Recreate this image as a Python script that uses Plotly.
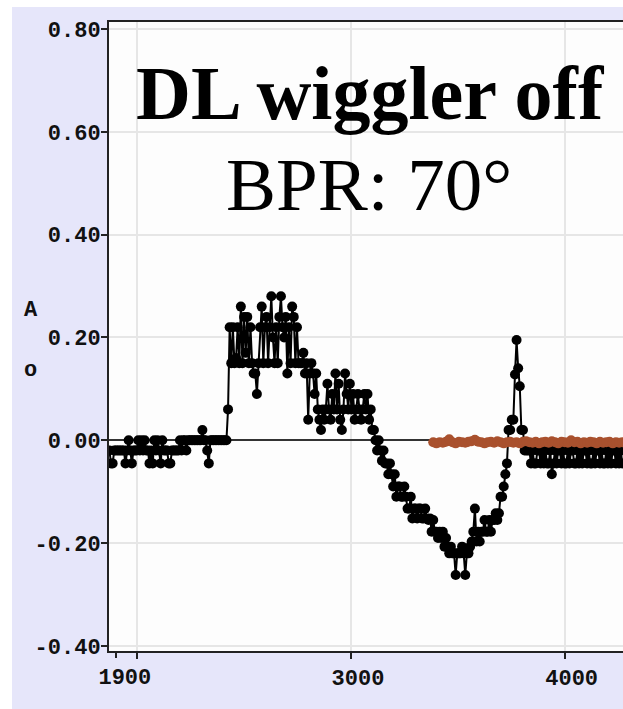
import plotly.graph_objects as go

# ---------------- data (black trace, by segment) ----------------
flat_x = [1870,1877.5,1885,1892.5,1900,1907.5,1915,1922.5,1930,1937.5,
          1945,1952.5,1960,1967.5,1975,1982.5,1990,1997.5,2005,2012.5,
          2020,2027.5,2035,2042.5,2050,2057.5,2065,2072.5,2080,2087.5,
          2095,2102.5,2110,2117.5,2125,2132.5,2140,2147.5,2155,2162.5,
          2170,2177.5,2185,2192.5,2200,2207.5,2215,2222.5,2230,2237.5,
          2245,2252.5,2260,2267.5,2275,2282.5,2290,2297.5,2305,2312.5,
          2320,2327.5,2335,2342.5,2350,2357.5,2365,2372.5,2380,2387.5,
          2395,2402.5,2410,2417.5]
flat_y = [-0.02,-0.045,-0.045,-0.02,-0.02,-0.02,-0.02,-0.02,-0.02,-0.02,
          -0.045,-0.02,0.0,-0.02,-0.045,-0.02,-0.02,-0.02,0.0,-0.02,
          0.0,-0.02,0.0,-0.02,-0.02,-0.045,-0.02,-0.045,0.0,-0.02,
          0.0,-0.02,-0.045,0.0,-0.02,-0.02,-0.02,-0.045,-0.045,-0.02,
          -0.02,-0.02,-0.02,-0.02,0.0,-0.02,0.0,0.0,-0.02,0.0,
          0.0,0.0,0.0,0.0,0.0,0.0,0.0,0.0,0.02,0.0,
          0.0,-0.02,-0.045,0.0,0.0,0.0,0.0,0.0,0.0,0.0,
          0.0,0.0,0.0,0.0]

peak_x = [2425,2432.5,2440,2447.5,2455,2462.5,2470,2477.5,2485,2492.5,
          2500,2507.5,2515,2522.5,2530,2537.5,2545,2552.5,2560,2567.5,
          2575,2582.5,2590,2597.5,2605,2612.5,2620,2627.5,2635,2642.5,
          2650,2657.5,2665,2672.5,2680,2687.5,2695,2702.5,2710,2717.5,
          2725,2732.5,2740,2747.5,2755,2762.5]
peak_y = [0.06,0.22,0.15,0.22,0.15,0.16,0.22,0.15,0.26,0.15,
          0.24,0.17,0.24,0.15,0.22,0.15,0.13,0.13,0.09,0.15,
          0.22,0.26,0.15,0.22,0.24,0.15,0.22,0.28,0.20,0.15,
          0.22,0.15,0.24,0.28,0.22,0.20,0.24,0.13,0.22,0.15,
          0.26,0.24,0.15,0.22,0.15,0.15]

decline_x = [2770,2777.5,2785,2792.5,2800,2807.5,2815,2822.5,2830,2837.5,
             2845,2852.5,2860,2867.5,2875,2882.5,2890,2897.5,2905,2912.5,
             2920,2927.5,2935,2942.5,2950,2957.5,2965,2972.5,2980,2987.5,
             2995,3002.5,3010,3017.5,3025,3032.5,3040,3047.5,3055,3062.5,
             3070,3077.5,3085,3092.5,3100,3107.5,3115,3122.5,3130,3137.5,
             3145,3152.5,3160]
decline_y = [0.15,0.17,0.13,0.15,0.04,0.13,0.15,0.13,0.09,0.13,
             0.06,0.04,0.02,0.06,0.04,0.06,0.11,0.06,0.04,0.09,
             0.06,0.13,0.06,0.11,0.04,0.02,0.06,0.13,0.09,0.06,
             0.11,0.06,0.09,0.04,0.06,0.09,0.06,0.04,0.06,0.09,
             0.06,0.09,0.04,0.06,0.02,0.02,0.0,-0.02,0.0,-0.02,
             -0.04,-0.02,-0.045]

trough_x = [3167.5,3175,3182.5,3190,3197.5,3205,3212.5,3220,3227.5,3235,
            3242.5,3250,3257.5,3265,3272.5,3280,3287.5,3295,3302.5,3310,
            3317.5,3325,3332.5,3340,3347.5,3355,3362.5,3370,3377.5,3385,
            3392.5,3400,3407.5,3415,3422.5,3430,3437.5,3445,3452.5,3460,
            3467.5,3475,3482.5,3490,3497.5,3505,3512.5,3520,3527.5,3535,
            3542.5,3550,3557.5,3565,3572.5,3580,3587.5,3595,3602.5,3610,
            3617.5,3625,3632.5,3640,3647.5,3655,3662.5,3670,3677.5,3685,
            3692.5,3700,3707.5,3715,3722.5,3730,3737.5]
trough_y = [-0.045,-0.066,-0.045,-0.066,-0.09,-0.066,-0.11,-0.09,-0.09,-0.11,
            -0.11,-0.09,-0.11,-0.133,-0.133,-0.11,-0.152,-0.133,-0.133,-0.152,
            -0.133,-0.133,-0.152,-0.152,-0.133,-0.152,-0.155,-0.152,-0.178,-0.155,
            -0.178,-0.178,-0.19,-0.178,-0.19,-0.178,-0.207,-0.19,-0.207,-0.22,
            -0.207,-0.22,-0.22,-0.262,-0.22,-0.22,-0.22,-0.207,-0.22,-0.262,
            -0.22,-0.22,-0.207,-0.197,-0.178,-0.133,-0.197,-0.178,-0.197,-0.178,
            -0.178,-0.155,-0.178,-0.178,-0.155,-0.178,-0.155,-0.155,-0.142,-0.155,
            -0.142,-0.11,-0.11,-0.09,-0.066,-0.045,0.02]

spike_x = [3745,3752.5,3760,3767.5,3775,3782.5,3790,3797.5,3805,3812.5,3820]
spike_y = [0.02,0.04,0.04,0.128,0.195,0.14,0.105,0.02,0.02,-0.02,-0.02]

tail_x = [3827.5,3835,3842.5,3850,3857.5,3865,3872.5,3880,3887.5,3895,
          3902.5,3910,3917.5,3925,3932.5,3940,3947.5,3955,3962.5,3970,
          3977.5,3985,3992.5,4000,4007.5,4015,4022.5,4030,4037.5,4045,
          4052.5,4060,4067.5,4075,4082.5,4090,4097.5,4105,4112.5,4120,
          4127.5,4135,4142.5,4150,4157.5,4165,4172.5,4180,4187.5,4195,
          4202.5,4210,4217.5,4225,4232.5,4240,4247.5,4255,4262.5,4270]
tail_y = [-0.02,-0.02,-0.045,-0.02,-0.045,-0.045,-0.02,-0.02,-0.045,-0.02,
          -0.045,-0.02,-0.045,-0.045,-0.02,-0.066,-0.045,-0.02,-0.045,-0.02,
          -0.02,-0.045,-0.02,-0.045,-0.045,-0.02,-0.045,-0.02,-0.02,-0.045,
          -0.045,-0.02,-0.045,-0.02,-0.045,-0.02,-0.02,-0.045,-0.02,-0.045,
          -0.045,-0.02,-0.045,-0.02,-0.02,-0.045,-0.02,-0.045,-0.045,-0.02,
          -0.045,-0.02,-0.045,-0.02,-0.02,-0.045,-0.02,-0.045,-0.02,-0.045]

# ---------------- data (orange trace) ----------------
orange_x = [3385,3400,3415,3430,3445,3460,3475,3490,3505,3520,
            3535,3550,3565,3580,3595,3610,3625,3640,3655,3670,
            3685,3700,3715,3730,3745,3760,3775,3790,3805,3820,
            3835,3850,3865,3880,3895,3910,3925,3940,3955,3970,
            3985,4000,4015,4030,4045,4060,4075,4090,4105,4120,
            4135,4150,4165,4180,4195,4210,4225,4240,4255,4270]
orange_y = [-0.004,-0.006,-0.004,-0.005,-0.003,0.002,-0.004,-0.006,-0.003,-0.004,
            -0.005,-0.003,-0.002,0.001,-0.003,-0.004,-0.006,-0.004,-0.003,-0.005,
            -0.002,-0.004,-0.006,-0.004,-0.003,-0.005,-0.004,-0.006,-0.003,-0.002,
            -0.004,-0.005,-0.003,-0.006,-0.004,-0.003,-0.005,-0.002,-0.004,-0.006,
            -0.003,-0.004,-0.005,0.0,-0.004,-0.003,-0.006,-0.004,-0.005,-0.003,
            -0.004,-0.006,-0.003,-0.005,-0.004,-0.003,-0.006,-0.004,-0.005,-0.004]

x_grid_ticks = [2000, 3000, 4000]
x_grid_labels = ["", "3000", "4000"]
x_extra_ticks = [1900]
x_extra_labels = ["1900"]
y_ticks = [-0.4, -0.2, 0.0, 0.2, 0.4, 0.6, 0.8]
y_labels = ["-0.40", "-0.20", "0.00", "0.20", "0.40", "0.60", "0.80"]

title_main = "DL wiggler off"
title_sub = "BPR: 70°"

black_x = flat_x + peak_x + decline_x + trough_x + spike_x + tail_x
black_y = flat_y + peak_y + decline_y + trough_y + spike_y + tail_y

# ---------------- figure ----------------
W, H = 623, 709
ML, MR, MT, MB = 109, 0, 22, 58
PW, PH = W - ML - MR, H - MT - MB

LAV = "#e6e6fa"
tickfont = dict(family="Liberation Mono", size=22, color="#111111", weight="bold")

fig = go.Figure()
fig.add_trace(go.Scatter(
    x=black_x, y=black_y, mode="lines+markers",
    line=dict(color="black", width=2),
    marker=dict(color="black", size=10),
    showlegend=False, xaxis="x", yaxis="y"))
fig.add_trace(go.Scatter(
    x=orange_x, y=orange_y, mode="lines+markers",
    line=dict(color="#a9512e", width=2),
    marker=dict(color="#a9512e", size=10),
    showlegend=False, xaxis="x", yaxis="y"))

xr = [1868, 4273]
fig.update_layout(
    width=W, height=H,
    margin=dict(l=ML, r=MR, t=MT, b=MB, pad=0),
    paper_bgcolor=LAV, plot_bgcolor="#fdfdfd",
    xaxis=dict(range=xr, tickvals=x_grid_ticks, ticktext=x_grid_labels,
               showgrid=True, gridcolor="#e6e6e6", gridwidth=1.5,
               showline=True, linecolor="#222222", linewidth=2, mirror=True,
               ticks="outside", ticklen=6, tickcolor="#222222", tickwidth=1.5,
               tickfont=tickfont, ticklabelshift=7, zeroline=False),
    xaxis2=dict(range=xr, overlaying="x", side="bottom", anchor="y",
                tickvals=x_extra_ticks, ticktext=x_extra_labels,
                showgrid=False, showline=False, zeroline=False,
                ticks="outside", ticklen=6, tickcolor="#222222", tickwidth=1.5,
                tickfont=tickfont, ticklabelshift=9),
    yaxis=dict(range=[-0.41, 0.8137], tickvals=y_ticks, ticktext=y_labels,
               showgrid=True, gridcolor="#e6e6e6", gridwidth=1.5,
               showline=True, linecolor="#222222", linewidth=2, mirror=False,
               ticks="outside", ticklen=6, tickcolor="#222222", tickwidth=1.5,
               tickfont=tickfont, ticklabelstandoff=-4,
               zeroline=True, zerolinecolor="#333333", zerolinewidth=1.5),
)
fig.add_trace(go.Scatter(x=[xr[0]], y=[0], xaxis="x2", yaxis="y",
                         mode="markers", marker=dict(opacity=0), showlegend=False,
                         hoverinfo="skip"))

# white page strips left and top of the lavender panel
fig.add_shape(type="rect", xref="paper", yref="paper",
              x0=-ML / PW - 0.01, x1=(-ML + 12) / PW, y0=-MB / PH - 0.01, y1=(PH + MT) / PH + 0.01,
              fillcolor="white", line=dict(width=0), layer="below")
fig.add_shape(type="rect", xref="paper", yref="paper",
              x0=-ML / PW - 0.01, x1=1.01, y0=(PH + MT - 7) / PH, y1=(PH + MT) / PH + 0.01,
              fillcolor="white", line=dict(width=0), layer="below")

# y axis title pieces
axfont = dict(family="Liberation Mono", size=22, color="#111111", weight="bold")
fig.add_annotation(text="A", xref="paper", yref="paper", x=0, xshift=-87,
                   y=(651 - 310) / PH, showarrow=False, font=axfont)
fig.add_annotation(text="o", xref="paper", yref="paper", x=0, xshift=-87,
                   y=(651 - 370) / PH, showarrow=False, font=axfont)

# title texts inside plot
fig.add_annotation(text="<b>%s</b>" % title_main, xref="paper", yref="paper",
                   x=(370 - 109) / PW, y=(651 - 93) / PH, xanchor="center", yanchor="middle",
                   showarrow=False,
                   font=dict(family="Liberation Serif", size=76, color="black"))
fig.add_annotation(text=title_sub, xref="paper", yref="paper",
                   x=(369 - 109) / PW, y=(651 - 184) / PH, xanchor="center", yanchor="middle",
                   showarrow=False,
                   font=dict(family="Liberation Serif", size=75, color="black"))

fig.write_html("out.html", config=dict(displayModeBar=False),
               post_script="document.body.style.margin='0';document.body.style.overflow='hidden';")
